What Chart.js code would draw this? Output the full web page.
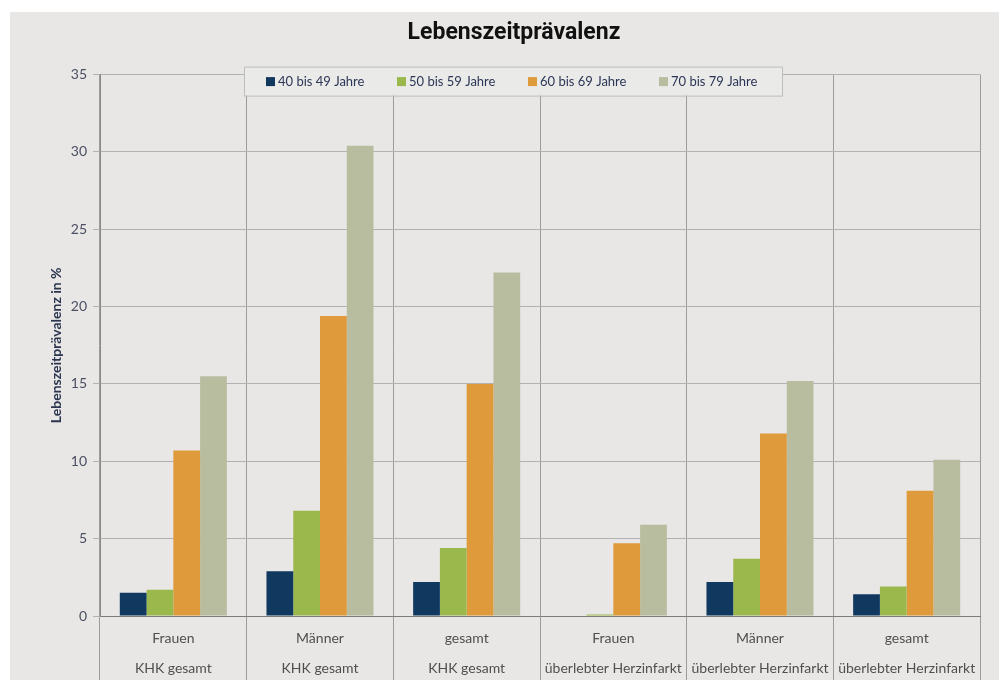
<!DOCTYPE html>
<html>
<head>
<meta charset="utf-8">
<script src="https://cdn.jsdelivr.net/npm/chart.js@4.4.0/dist/chart.umd.min.js"></script>
<style>
  html, body { margin: 0; padding: 0; background: #fff; }
</style>
</head>
<body>
<canvas id="myChart" width="999" height="680"></canvas>
<script>
let groups = ["Frauen", "Männer", "gesamt", "Frauen", "Männer", "gesamt"];
let outcomes = ["KHK gesamt", "KHK gesamt", "KHK gesamt", "überlebter Herzinfarkt", "überlebter Herzinfarkt", "überlebter Herzinfarkt"];
let ageLabels = ["40 bis 49 Jahre", "50 bis 59 Jahre", "60 bis 69 Jahre", "70 bis 79 Jahre"];

let age40 = [1.5, 2.9, 2.2, 0, 2.2, 1.4];
let age50 = [1.7, 6.8, 4.4, 0.1, 3.7, 1.9];
let age60 = [10.7, 19.4, 15.0, 4.7, 11.8, 8.1];
let age70 = [15.5, 30.4, 22.2, 5.9, 15.2, 10.1];

let colors = ["#11395f", "#9bb84c", "#df9a3b", "#b9bd9f"];

let labels = groups.map((g, i) => [g, outcomes[i]]);

// grey panel behind everything, with the white margin on top/left
let backdrop = {
  id: "backdrop",
  beforeDraw: chart => {
    let ctx = chart.ctx;
    ctx.save();
    ctx.fillStyle = "#ffffff";
    ctx.fillRect(0, 0, chart.width, chart.height);
    ctx.fillStyle = "#e8e7e5";
    ctx.fillRect(10, 12, chart.width - 10, chart.height - 12);
    ctx.restore();
  }
};

// legend box sitting on top of the plot
let boxLegend = {
  id: "boxLegend",
  afterDraw: chart => {
    let ctx = chart.ctx;
    let area = chart.chartArea;
    let left = area.left + 144;
    let top = area.top - 8;
    let w = 538, h = 29;
    ctx.save();
    ctx.fillStyle = "#eaeae8";
    ctx.fillRect(left, top, w, h);
    ctx.strokeStyle = "#bdbdbd";
    ctx.lineWidth = 1;
    ctx.strokeRect(left + 0.5, top + 0.5, w, h);
    ctx.font = "13px Lato";
    ctx.textBaseline = "middle";
    chart.data.datasets.forEach((ds, i) => {
      let x = left + 22 + i * 131;
      let y = top + h / 2;
      ctx.fillStyle = ds.backgroundColor;
      ctx.fillRect(x, y - 4, 9, 9);
      ctx.fillStyle = "#2c3656";
      ctx.fillText(ds.label, x + 12, y + 1);
    });
    ctx.restore();
  }
};

let ctx = document.getElementById("myChart").getContext("2d");
let myChart = new Chart(ctx, {
  type: "bar",
  data: {
    labels: labels,
    datasets: [
      { label: ageLabels[0], data: age40, backgroundColor: colors[0] },
      { label: ageLabels[1], data: age50, backgroundColor: colors[1] },
      { label: ageLabels[2], data: age60, backgroundColor: colors[2] },
      { label: ageLabels[3], data: age70, backgroundColor: colors[3] }
    ]
  },
  options: {
    responsive: false,
    animation: false,
    layout: { padding: { top: 12, left: 48, right: 19, bottom: 0 } },
    datasets: {
      bar: { categoryPercentage: 0.73, barPercentage: 1.0 }
    },
    plugins: {
      legend: { display: false },
      tooltip: { enabled: false },
      title: {
        display: true,
        text: "Lebenszeitprävalenz",
        color: "#111111",
        font: { family: "Roboto", size: 23, weight: "bold" },
        padding: { top: 7, bottom: 28 }
      }
    },
    scales: {
      x: {
        afterFit: scale => { scale.height = 64; },
        grid: {
          offset: true,
          color: "#9c9c9c",
          tickLength: 64,
          drawOnChartArea: true
        },
        border: { color: "#7c7c7c" },
        ticks: {
          color: "#4f4f4f",
          font: { family: "Lato", size: 14, lineHeight: 2.14 },
          padding: -56,
          maxRotation: 0,
          autoSkip: false
        }
      },
      y: {
        min: 0,
        max: 35,
        afterFit: scale => { scale.width = 52; },
        grid: { color: "#b2b2b2", tickLength: 7 },
        border: { color: "#888888" },
        ticks: {
          stepSize: 5,
          color: "#4a4f63",
          padding: 6,
          font: { family: "Lato", size: 14 }
        },
        title: {
          display: true,
          text: "Lebenszeitprävalenz in %",
          color: "#2b3550",
          font: { family: "Lato", size: 14, weight: "bold" },
          padding: { top: 0 }
        }
      }
    }
  },
  plugins: [backdrop, boxLegend]
});
</script>
</body>
</html>
